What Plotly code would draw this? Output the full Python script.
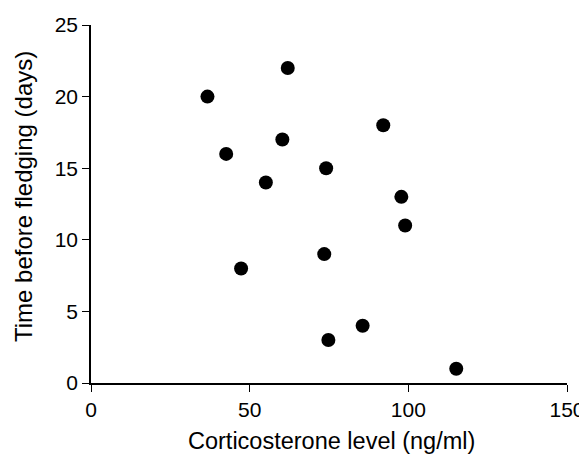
import plotly.graph_objects as go

corticosterone = [36.7, 42.6, 47.3, 55.1, 60.3, 62.0, 74.1, 73.5, 74.8, 85.6, 92.1, 97.8, 99.0, 115.1]
days_before_fledging = [20, 16, 8, 14, 17, 22, 15, 9, 3, 4, 18, 13, 11, 1]

x_ticks = [0, 50, 100, 150]
y_ticks = [0, 5, 10, 15, 20, 25]

x_title = "Corticosterone level (ng/ml)"
y_title = "Time before fledging (days)"

font_family = "Liberation Sans, Arial, Helvetica, sans-serif"

fig = go.Figure(
    go.Scatter(
        x=corticosterone,
        y=days_before_fledging,
        mode="markers",
        marker=dict(color="black", size=14, line=dict(width=0)),
        showlegend=False,
        cliponaxis=False,
    )
)

# the page body has an 8px margin, so the figure is sized to the visible area
fig.update_layout(
    width=579,
    height=449,
    margin=dict(l=83, r=20, t=17, b=74, autoexpand=False),
    paper_bgcolor="white",
    plot_bgcolor="white",
    font=dict(family=font_family, size=21, color="black"),
    annotations=[
        dict(text=x_title, xref="paper", yref="paper", x=0.5, y=0,
             xanchor="center", yanchor="middle", xshift=2, yshift=-58,
             showarrow=False, font=dict(size=23.5)),
        dict(text=y_title, xref="paper", yref="paper", x=0, y=0.5,
             xanchor="center", yanchor="middle", xshift=-68, yshift=7,
             textangle=-90, showarrow=False, font=dict(size=24)),
    ],
)

common = dict(
    ticks="outside",
    ticklen=7,
    tickwidth=1,
    tickcolor="black",
    showline=True,
    linecolor="black",
    linewidth=1.5,
    showgrid=False,
    zeroline=False,
    automargin=False,
    tickfont=dict(size=21),
)

fig.update_xaxes(range=[0, 150], tickvals=x_ticks, **common)
fig.update_yaxes(range=[0, 25], tickvals=y_ticks, **common)

fig.write_html("out.html")
